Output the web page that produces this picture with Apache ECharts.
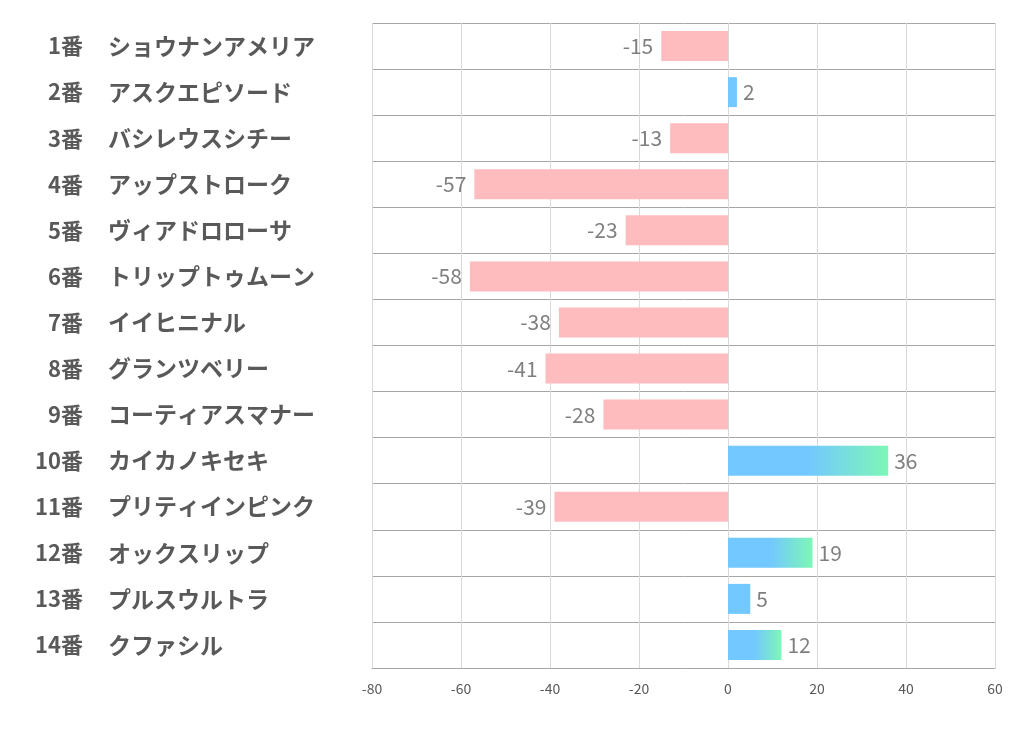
<!DOCTYPE html>
<html><head><meta charset="utf-8">
<script src="https://cdn.jsdelivr.net/npm/echarts@6/dist/echarts.min.js"></script>
<style>html,body{margin:0;padding:0;background:#fff}#c{width:1022px;height:730px}</style>
</head><body><div id="c"></div>
<script>
const numbers = ['1番','2番','3番','4番','5番','6番','7番','8番','9番','10番','11番','12番','13番','14番'];
const names = ['ショウナンアメリア','アスクエピソード','バシレウスシチー','アップストローク','ヴィアドロローサ','トリップトゥムーン','イイヒニナル','グランツベリー','コーティアスマナー','カイカノキセキ','プリティインピンク','オックスリップ','プルスウルトラ','クファシル'];
const values = [-15, 2, -13, -57, -23, -58, -38, -41, -28, 36, -39, 19, 5, 12];
const xTicks = {min: -80, max: 60, interval: 20};

const pink = '#ffbcbf';
const blue = '#73c8ff';
const green = '#7df7b6';
const data = values.map(v => {
  if (v < 0) {
    return {value: v, itemStyle: {color: pink}, label: {position: 'left', distance: 8}};
  }
  const color = v >= 10 ? new echarts.graphic.LinearGradient(0, 0, 1, 0, [
    {offset: 0, color: blue}, {offset: 0.5, color: blue}, {offset: 1, color: green}
  ]) : blue;
  return {value: v, itemStyle: {color}, label: {position: 'right', distance: 6}};
});

const font = 'Noto Sans CJK JP';
const chart = echarts.init(document.getElementById('c'));
chart.setOption({
  animation: false,
  grid: {left: 372, right: 27, top: 23, bottom: 62, containLabel: false},
  xAxis: {
    type: 'value', min: xTicks.min, max: xTicks.max, interval: xTicks.interval,
    axisLine: {show: true, lineStyle: {color: '#a6a6a6', width: 1}},
    axisTick: {show: false},
    axisLabel: {color: '#595959', fontSize: 14, margin: 14, fontFamily: font},
    splitLine: {show: true, lineStyle: {color: '#d9d9d9', width: 1}}
  },
  yAxis: [{
    type: 'category', inverse: true, data: names,
    axisLine: {show: false}, axisTick: {show: false},
    splitLine: {show: true, lineStyle: {color: '#a6a6a6', width: 1}},
    axisLabel: {align: 'left', margin: 264, fontSize: 23, fontWeight: 'bold', color: '#595959', fontFamily: font}
  }, {
    type: 'category', inverse: true, data: numbers, position: 'left',
    axisLine: {show: false}, axisTick: {show: false}, splitLine: {show: false},
    axisLabel: {align: 'right', margin: 289, fontSize: 22, fontWeight: 'bold', color: '#595959', fontFamily: font}
  }],
  series: [{
    type: 'bar', data: data, barWidth: 30, yAxisIndex: 0,
    label: {show: true, color: '#7f7f7f', fontSize: 21, fontFamily: font}
  }]
});
</script></body></html>
